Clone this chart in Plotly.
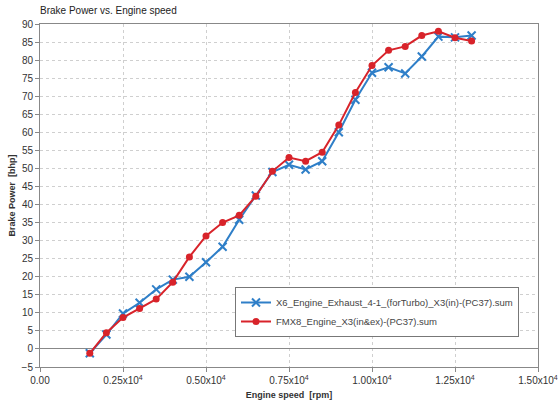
import plotly.graph_objects as go

# Engine speed sample points [rpm]
rpm = [1500, 2000, 2500, 3000, 3500, 4000, 4500, 5000, 5500, 6000, 6500, 7000,
       7500, 8000, 8500, 9000, 9500, 10000, 10500, 11000, 11500, 12000, 12500, 13000]

# Brake power [bhp] for each configuration
x6_exhaust = [-1.2, 4.0, 9.8, 12.8, 16.5, 19.2, 20.0, 24.0, 28.3, 35.8, 42.5, 49.0,
              51.0, 49.7, 52.0, 60.0, 69.0, 76.5, 78.0, 76.3, 81.0, 86.5, 86.3, 86.8]
fmx8_engine = [-1.2, 4.5, 8.7, 11.2, 13.8, 18.5, 25.5, 31.3, 35.0, 37.0, 42.3, 49.2,
               53.0, 52.0, 54.5, 62.0, 71.0, 78.5, 82.7, 83.8, 86.8, 88.0, 86.2, 85.3]

series_names = ["X6_Engine_Exhaust_4-1_(forTurbo)_X3(in)-(PC37).sum",
                "FMX8_Engine_X3(in&ex)-(PC37).sum"]

x_tickvals = [0, 2500, 5000, 7500, 10000, 12500, 15000]
x_ticktext = ["0.00", "0.25x10<sup>4</sup>", "0.50x10<sup>4</sup>", "0.75x10<sup>4</sup>",
              "1.00x10<sup>4</sup>", "1.25x10<sup>4</sup>", "1.50x10<sup>4</sup>"]
y_tickvals = list(range(-5, 91, 5))

BLUE = "#2f7fc8"
RED = "#d8232a"

fig = go.Figure()
fig.add_trace(go.Scatter(
    x=rpm, y=x6_exhaust, name=series_names[0], mode="lines+markers",
    line=dict(color=BLUE, width=2),
    marker=dict(symbol="x-thin", size=8, line=dict(color=BLUE, width=2), color=BLUE),
))
fig.add_trace(go.Scatter(
    x=rpm, y=fmx8_engine, name=series_names[1], mode="lines+markers",
    line=dict(color=RED, width=2),
    marker=dict(symbol="circle", size=7, color=RED),
))

font_family = "Liberation Sans, Arial, sans-serif"
grid_col = "#cfcfcf"

fig.update_layout(
    width=558, height=401,
    margin=dict(l=40, r=20, t=24, b=34, autoexpand=False),
    paper_bgcolor="white", plot_bgcolor="white",
    font=dict(family=font_family, size=10, color="#333333"),
    title=dict(text="Brake Power vs. Engine speed", x=40 / 558, xanchor="left",
               y=1 - 10 / 401, yanchor="middle",
               font=dict(size=10, color="#222222")),
    showlegend=True,
    legend=dict(x=(235 - 40) / 498, xanchor="left",
                y=(367 - 287) / 343, yanchor="top",
                bgcolor="white", bordercolor="#777777", borderwidth=1,
                font=dict(size=9.5, color="#444444"),
                itemwidth=30, tracegroupgap=0),
    xaxis=dict(range=[0, 15000], tickvals=x_tickvals, ticktext=x_ticktext,
               showgrid=True, gridcolor=grid_col, griddash="dot", gridwidth=1,
               showline=True, linecolor="#888888", linewidth=1, mirror=True,
               ticks="outside", ticklen=4, tickcolor="#888888", zeroline=False,
               tickfont=dict(size=10, color="#333333"),
               title=dict(text="<b>Engine speed  [rpm]</b>", standoff=6,
                          font=dict(size=9, color="#333333"))),
    yaxis=dict(range=[-5, 90], tickvals=y_tickvals,
               showgrid=True, gridcolor=grid_col, griddash="dot", gridwidth=1,
               showline=True, linecolor="#888888", linewidth=1, mirror=True,
               ticks="outside", ticklen=4, tickcolor="#888888",
               zeroline=True, zerolinecolor="#888888", zerolinewidth=1,
               tickfont=dict(size=10, color="#333333"),
               title=dict(text="<b>Brake Power  [bhp]</b>", standoff=4,
                          font=dict(size=9, color="#333333"))),
)

fig.write_html("out.html")
